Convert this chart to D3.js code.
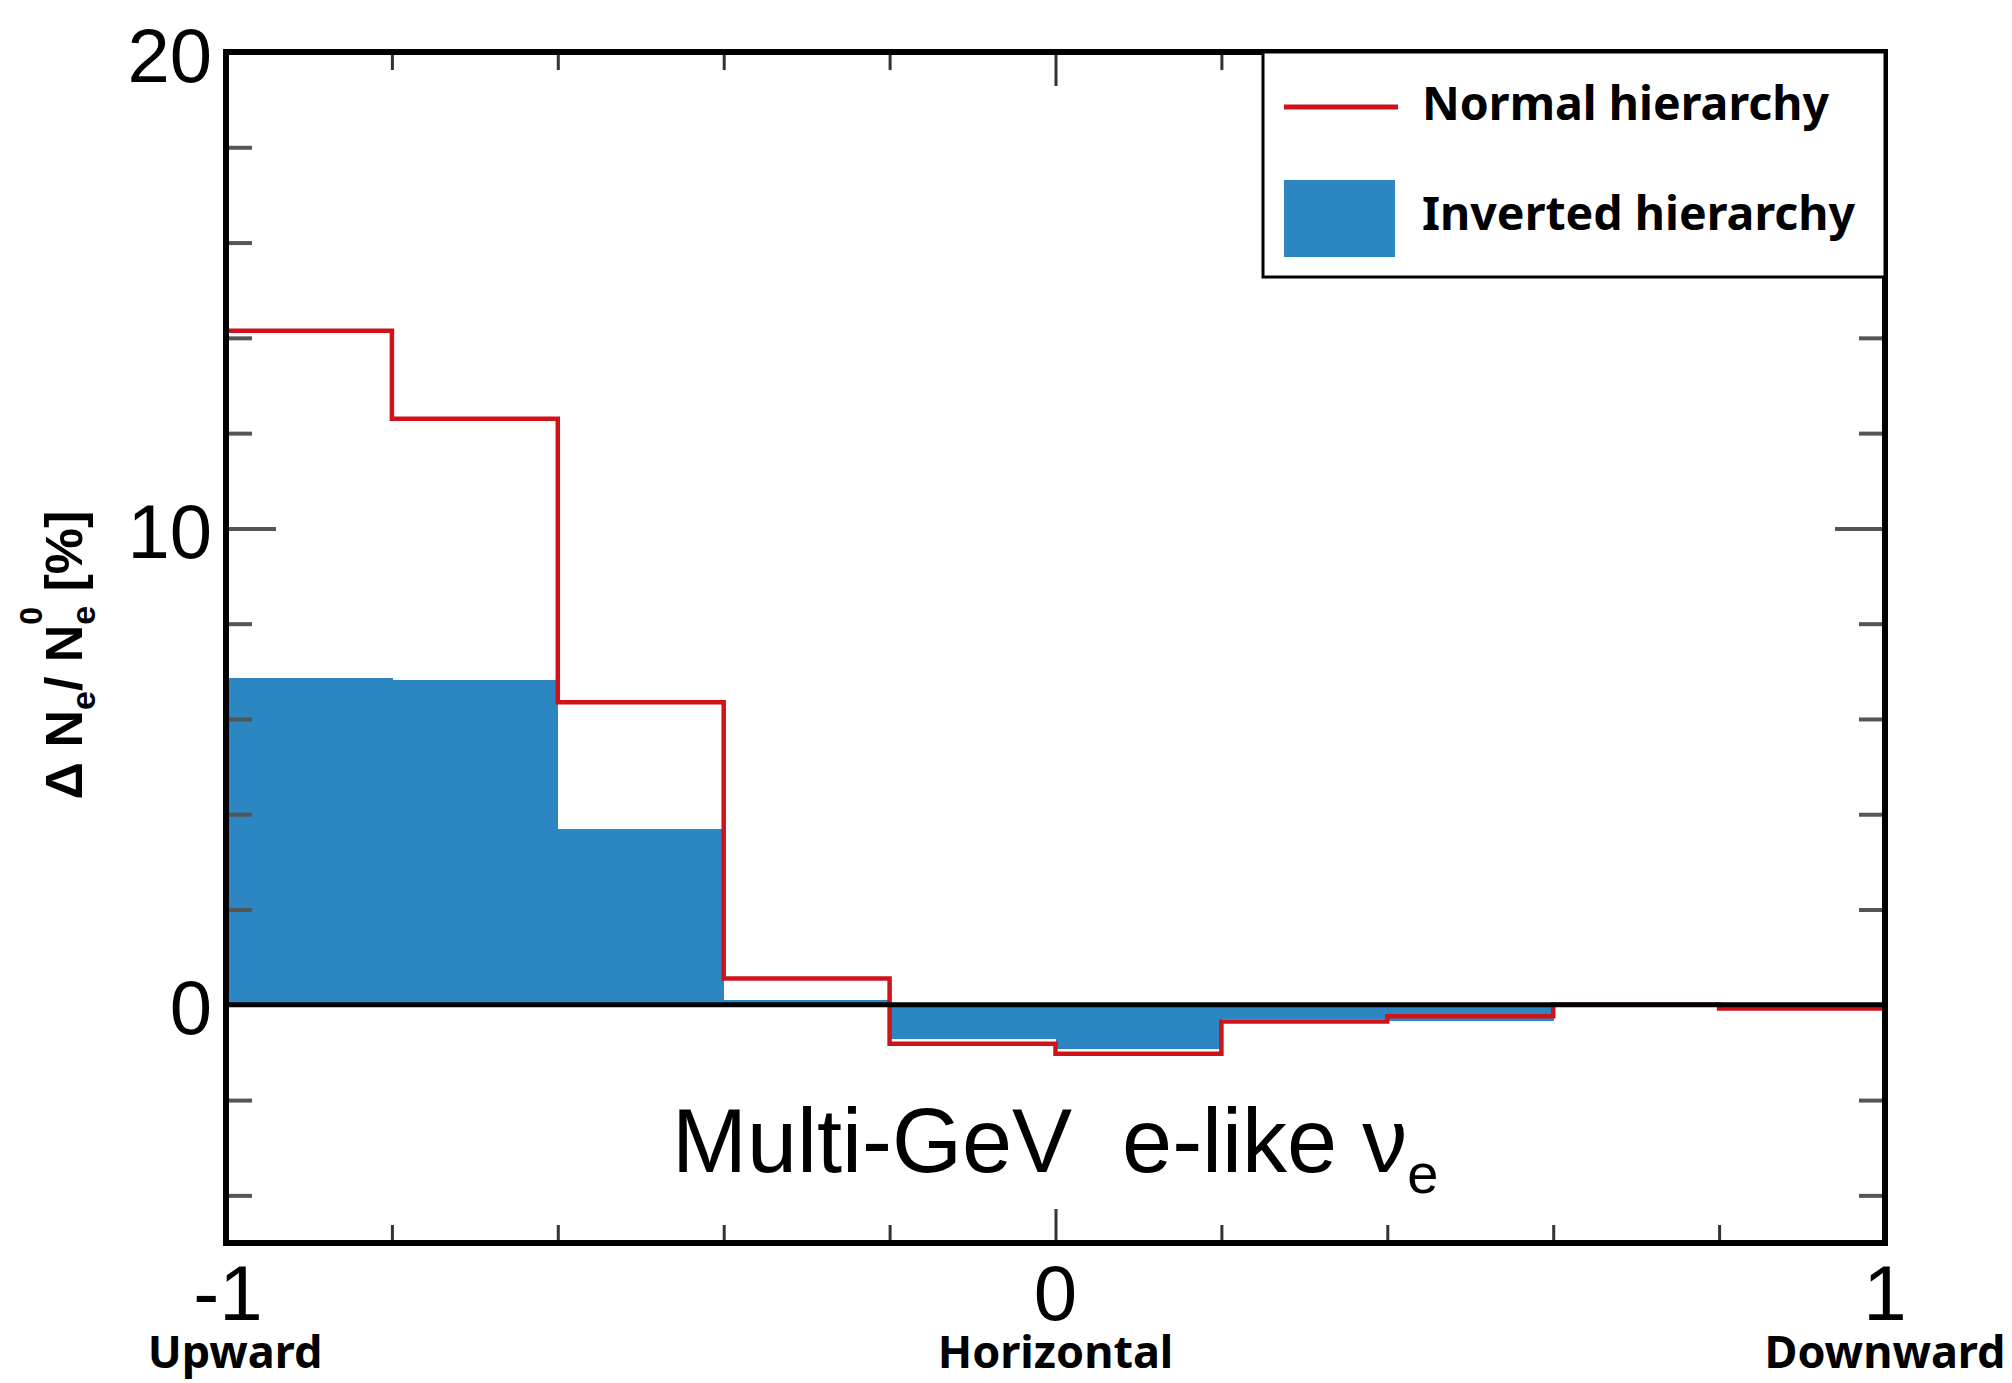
<!DOCTYPE html>
<html>
<head>
<meta charset="utf-8">
<script src="https://cdn.jsdelivr.net/npm/d3@7"></script>
<style>
  body { margin: 0; background: #fff; }
  svg { display: block; }
  .num { font-family: "Liberation Sans", Arial, sans-serif; }
  .lbl { font-family: "Noto Sans", sans-serif; font-weight: 700; }
</style>
</head>
<body>
<div id="chart"></div>
<script>
// === Data ===
// cos(zenith) bin edges
const binEdges = [-1, -0.8, -0.6, -0.4, -0.2, 0, 0.2, 0.4, 0.6, 0.8, 1];
// Delta N_e / N_e^0 [%] per bin
const normalHierarchy = [14.15, 12.3, 6.35, 0.55, -0.82, -1.03, -0.35, -0.24, 0, -0.08];
const invertedHierarchy = [6.86, 6.82, 3.7, 0.1, -0.72, -0.92, -0.3, -0.35, 0, 0];

const xMajorTicks = [-1, 0, 1];
const xMinorTicks = [-0.8, -0.6, -0.4, -0.2, 0.2, 0.4, 0.6, 0.8];
const xTickLabels = ['-1', '0', '1'];
const directionLabels = ['Upward', 'Horizontal', 'Downward'];
const directionOffsets = [9, 0, 0];

const yMajorTicks = [10];
const yMinorTicks = [-4, -2, 2, 4, 6, 8, 12, 14, 16, 18];
const yTickLabels = [0, 10, 20];

const seriesNames = ['Normal hierarchy', 'Inverted hierarchy'];
const redColor = '#d0121b';
const blueColor = '#2b86c1';

// === Layout ===
const W = 2012, H = 1383;
const margin = { top: 52, right: 127, bottom: 140, left: 226 };

const svg = d3.select('#chart')
    .append('svg')
    .attr('width', W)
    .attr('height', H);

const x = d3.scaleLinear().domain([-1, 1]).range([margin.left, W - margin.right]);
const y = d3.scaleLinear().domain([-5, 20]).range([H - margin.bottom, margin.top]);

const bins = invertedHierarchy.map((v, i) => ({ x0: binEdges[i], x1: binEdges[i + 1], v }));

// Inverted hierarchy: filled bars
svg.append('g')
    .attr('shape-rendering', 'crispEdges')
    .selectAll('rect')
    .data(bins)
    .enter()
    .append('rect')
    .attr('x', d => x(d.x0))
    .attr('width', d => x(d.x1) - x(d.x0) + 0.6)
    .attr('y', d => y(Math.max(0, d.v)))
    .attr('height', d => Math.abs(y(d.v) - y(0)))
    .attr('fill', blueColor);

// Normal hierarchy: step outline
const stepPoints = normalHierarchy.map((v, i) => [binEdges[i], v]);
stepPoints.push([binEdges[binEdges.length - 1], normalHierarchy[normalHierarchy.length - 1]]);

const stepLine = d3.line()
    .x(d => x(d[0]))
    .y(d => y(d[1]))
    .curve(d3.curveStepAfter);

svg.append('path')
    .datum(stepPoints)
    .attr('d', stepLine)
    .attr('fill', 'none')
    .attr('stroke', redColor)
    .attr('stroke-width', 4.5);

// zero line (on top of the histograms)
svg.append('line')
    .attr('x1', x(-1)).attr('x2', x(1))
    .attr('y1', y(0)).attr('y2', y(0))
    .attr('stroke', '#000')
    .attr('stroke-width', 5);

// === Ticks (inward, on all four sides) ===
function tickGroup(axis, tx, ty, color, width) {
    const g = svg.append('g')
        .attr('transform', `translate(${tx},${ty})`)
        .call(axis);
    g.select('.domain').remove();
    g.selectAll('.tick line').attr('stroke', color).attr('stroke-width', width);
    g.selectAll('.tick text').remove();
    return g;
}

tickGroup(d3.axisLeft(y).tickValues(yMinorTicks).tickSize(-26), x(-1), 0, '#555', 4);
tickGroup(d3.axisLeft(y).tickValues(yMajorTicks).tickSize(-50), x(-1), 0, '#555', 4);
tickGroup(d3.axisRight(y).tickValues(yMinorTicks).tickSize(-26), x(1), 0, '#555', 4);
tickGroup(d3.axisRight(y).tickValues(yMajorTicks).tickSize(-50), x(1), 0, '#555', 4);
tickGroup(d3.axisBottom(x).tickValues(xMinorTicks).tickSize(-18), 0, y(-5), '#333', 3);
tickGroup(d3.axisBottom(x).tickValues(xMajorTicks).tickSize(-34), 0, y(-5), '#333', 3);
tickGroup(d3.axisTop(x).tickValues(xMinorTicks).tickSize(-18), 0, y(20), '#333', 3);
tickGroup(d3.axisTop(x).tickValues(xMajorTicks).tickSize(-34), 0, y(20), '#333', 3);

// frame
svg.append('rect')
    .attr('x', x(-1)).attr('y', y(20))
    .attr('width', x(1) - x(-1))
    .attr('height', y(-5) - y(20))
    .attr('fill', 'none')
    .attr('stroke', '#000')
    .attr('stroke-width', 6);

// === Tick labels ===
svg.append('g')
    .selectAll('text')
    .data(yTickLabels)
    .enter()
    .append('text')
    .attr('class', 'num')
    .attr('x', margin.left - 14)
    .attr('y', d => y(d) + 3)
    .attr('text-anchor', 'end')
    .attr('dominant-baseline', 'central')
    .attr('font-size', 76)
    .text(d => d);

svg.append('g')
    .selectAll('text')
    .data(xMajorTicks)
    .enter()
    .append('text')
    .attr('class', 'num')
    .attr('x', (d, i) => x(d) + (i === 0 ? 2 : 0))
    .attr('y', 1320)
    .attr('text-anchor', 'middle')
    .attr('font-size', 78)
    .text((d, i) => xTickLabels[i]);

svg.append('g')
    .selectAll('text')
    .data(xMajorTicks)
    .enter()
    .append('text')
    .attr('class', 'lbl')
    .attr('x', (d, i) => x(d) + directionOffsets[i])
    .attr('y', 1368)
    .attr('text-anchor', 'middle')
    .attr('font-size', 45)
    .text((d, i) => directionLabels[i]);

// === Y axis title: Δ N_e / N_e^0 [%] ===
const yTitle = svg.append('text')
    .attr('class', 'num')
    .attr('transform', 'translate(82,655) rotate(-90)')
    .attr('text-anchor', 'middle')
    .attr('font-size', 52)
    .attr('font-weight', 700);
yTitle.append('tspan').text('\u0394 N');
yTitle.append('tspan').attr('font-size', 34).attr('dy', 13).text('e');
yTitle.append('tspan').attr('dy', -13).text('/ N');
yTitle.append('tspan').attr('font-size', 32).attr('dy', -40).text('0');
yTitle.append('tspan').attr('font-size', 34).attr('dx', -18).attr('dy', 53).text('e');
yTitle.append('tspan').attr('dy', -13).text(' [%]');

// === Sample label ===
const sample = svg.append('text')
    .attr('class', 'num')
    .attr('x', 672)
    .attr('y', 1172)
    .attr('font-size', 90)
    .style('white-space', 'pre');
sample.append('tspan').text('Multi-GeV  e-like \u03bd');
sample.append('tspan').attr('font-size', 56).attr('dy', 21).text('e');

// === Legend ===
const legend = svg.append('g');
legend.append('rect')
    .attr('x', 1263).attr('y', y(20))
    .attr('width', x(1) - 1263)
    .attr('height', 225)
    .attr('fill', '#fff')
    .attr('stroke', '#000')
    .attr('stroke-width', 3);
legend.append('line')
    .attr('x1', 1284).attr('x2', 1398)
    .attr('y1', 107).attr('y2', 107)
    .attr('stroke', redColor)
    .attr('stroke-width', 5);
legend.append('rect')
    .attr('x', 1284).attr('y', 180)
    .attr('width', 111).attr('height', 77)
    .attr('fill', blueColor);
legend.selectAll('text.leg')
    .data(seriesNames)
    .enter()
    .append('text')
    .attr('class', 'lbl leg')
    .attr('x', 1422)
    .attr('y', (d, i) => i === 0 ? 120 : 230)
    .attr('font-size', 46.5)
    .text(d => d);
</script>
</body>
</html>
